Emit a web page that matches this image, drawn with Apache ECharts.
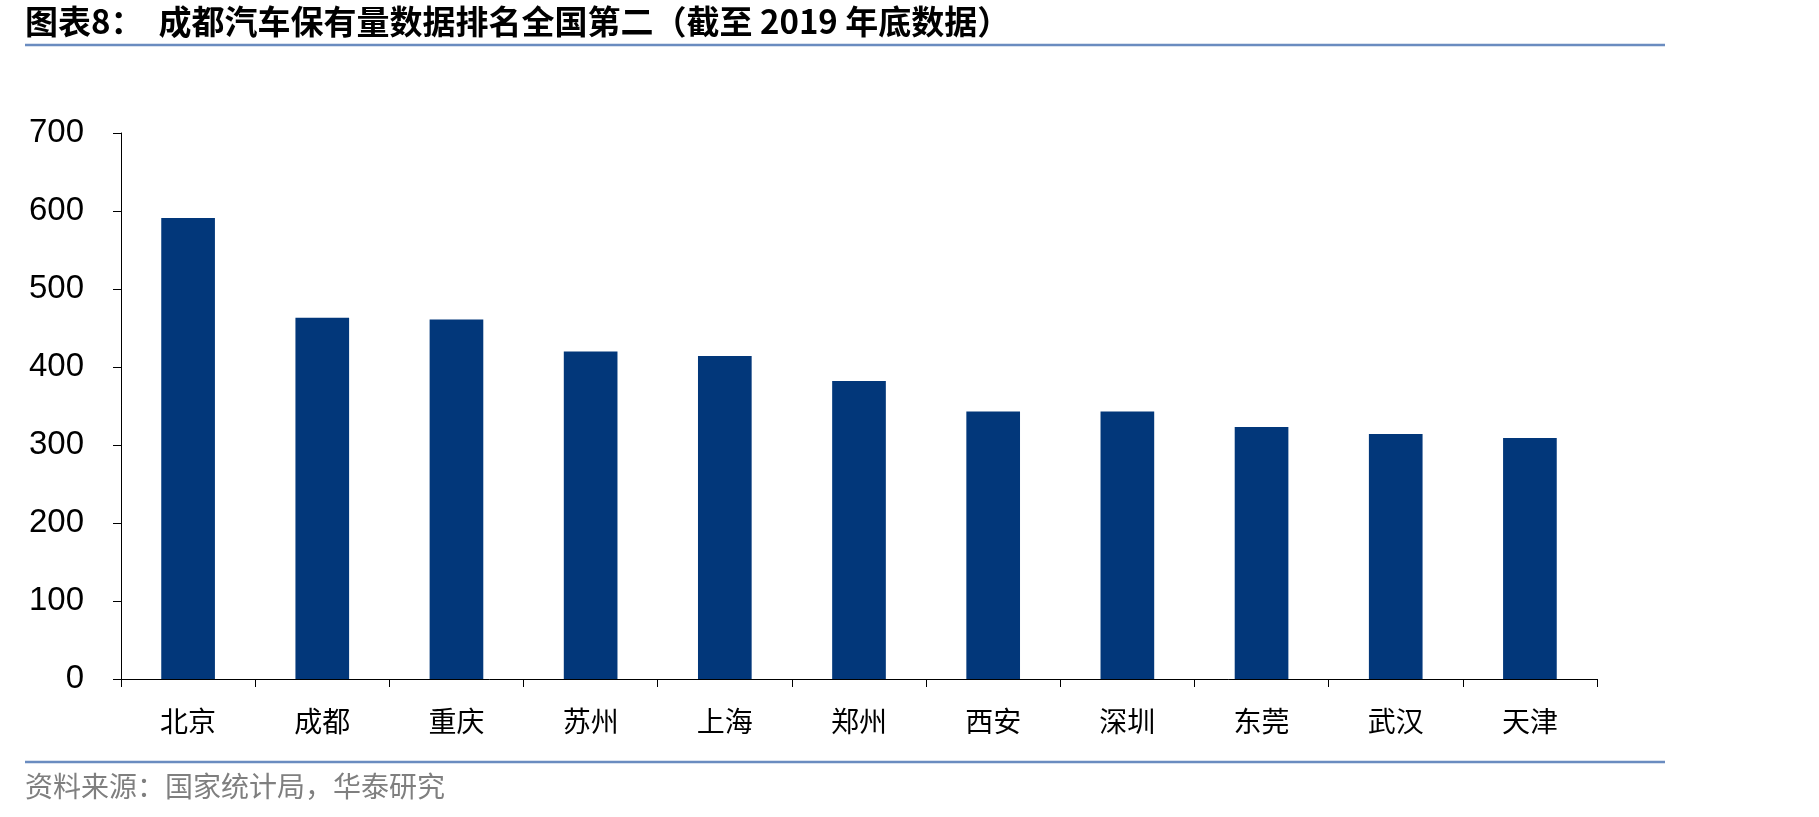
<!DOCTYPE html>
<html>
<head>
<meta charset="utf-8">
<script src="https://cdn.jsdelivr.net/npm/echarts@6/dist/echarts.min.js"></script>
<style>
  html, body { margin: 0; padding: 0; background: #ffffff; }
  #chart { width: 1819px; height: 817px; }
</style>
</head>
<body>
<div id="chart"></div>
<script>
// cities, ranked by car ownership (10k vehicles), end of 2019
const cities = ["北京", "成都", "重庆", "苏州", "上海", "郑州", "西安", "深圳", "东莞", "武汉", "天津"];
const ownership = [591, 463, 461, 420, 414, 382, 343, 343, 323, 314, 309];
const yTicks = [0, 100, 200, 300, 400, 500, 600, 700];

const titleText = "图表8：  成都汽车保有量数据排名全国第二（截至 2019 年底数据）";
const sourceText = "资料来源：国家统计局，华泰研究";

const chart = echarts.init(document.getElementById("chart"));

chart.setOption({
  backgroundColor: "#ffffff",
  animation: false,
  grid: {
    left: 121,
    right: 222,
    top: 133,
    bottom: 138,
    containLabel: false
  },
  xAxis: {
    type: "category",
    data: cities,
    axisLine: { lineStyle: { color: "#000000", width: 1 } },
    axisTick: { show: true, length: 8, alignWithLabel: false, lineStyle: { color: "#000000" } },
    axisLabel: {
      margin: 28,
      fontSize: 28,
      color: "#000000",
      fontFamily: "Noto Sans CJK SC"
    }
  },
  yAxis: {
    type: "value",
    min: yTicks[0],
    max: yTicks[yTicks.length - 1],
    interval: 100,
    axisLine: { show: true, lineStyle: { color: "#000000", width: 1 } },
    axisTick: { show: true, length: 8, lineStyle: { color: "#000000" } },
    splitLine: { show: false },
    axisLabel: {
      margin: 37,
      fontSize: 33,
      color: "#000000",
      fontFamily: "Liberation Sans"
    }
  },
  series: [
    {
      type: "bar",
      data: ownership,
      barWidth: "40%",
      itemStyle: { color: "#02377a" }
    }
  ],
  graphic: [
    {
      type: "text",
      left: 25,
      top: 5,
      style: {
        text: titleText,
        fontSize: 33,
        fontWeight: "bold",
        fontFamily: "Noto Sans CJK SC",
        fill: "#000000"
      }
    },
    {
      type: "line",
      shape: { x1: 25, y1: 45, x2: 1665, y2: 45 },
      style: { stroke: "#6a8cc0", lineWidth: 2.5 }
    },
    {
      type: "line",
      shape: { x1: 25, y1: 762, x2: 1665, y2: 762 },
      style: { stroke: "#6a8cc0", lineWidth: 2.5 }
    },
    {
      type: "text",
      left: 25,
      top: 772,
      style: {
        text: sourceText,
        fontSize: 28,
        fontFamily: "Noto Sans CJK SC",
        fill: "#7f7f7f"
      }
    }
  ]
});
</script>
</body>
</html>
